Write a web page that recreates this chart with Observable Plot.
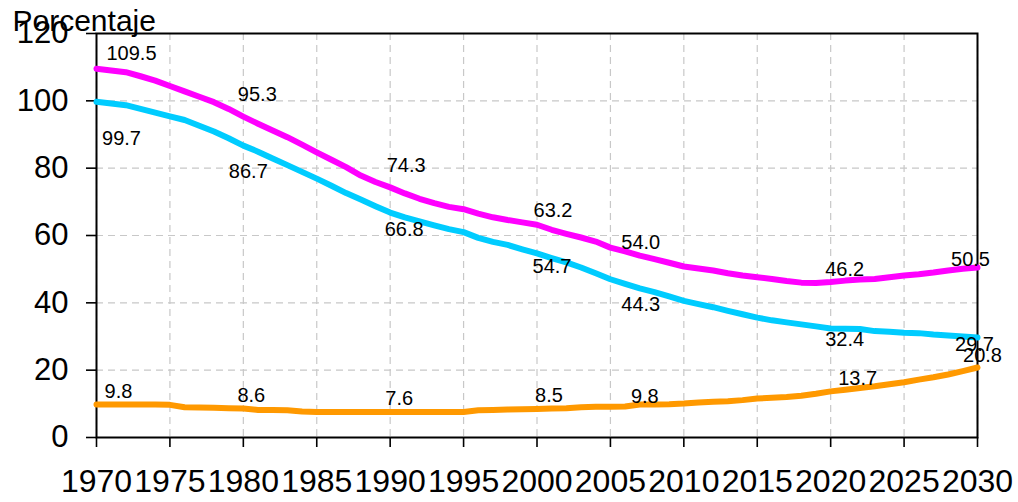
<!DOCTYPE html>
<html>
<head>
<meta charset="utf-8">
<script src="https://cdn.jsdelivr.net/npm/d3@7"></script>
<script src="https://cdn.jsdelivr.net/npm/@observablehq/plot@0.6"></script>
<style>
  html, body { margin: 0; padding: 0; background: #fff; }
  #chart svg { display: block; }
</style>
</head>
<body>
<div id="chart"></div>
<script>
// ---- Data ----
const years = d3.range(1970, 2031);

const seriesNames = ["Total", "Jóvenes", "Mayores"];

const totalValues = [
  109.5, 109.0, 108.5, 107.3, 106.0, 104.4, 102.8, 101.2, 99.6, 97.6,
  95.3, 93.2, 91.2, 89.2, 87.0, 84.7, 82.5, 80.3, 77.8, 75.9,
  74.3, 72.5, 70.9, 69.6, 68.5, 67.8, 66.5, 65.4, 64.6, 63.9,
  63.2, 61.7, 60.5, 59.4, 58.2, 56.4, 55.3, 54.0, 53.0, 51.9,
  50.8, 50.2, 49.6, 48.8, 48.1, 47.6, 47.1, 46.5, 46.0, 45.9,
  46.2, 46.6, 46.9, 47.1, 47.6, 48.1, 48.5, 49.0, 49.6, 50.1,
  50.5
];

const youngValues = [
  99.7, 99.2, 98.7, 97.6, 96.5, 95.4, 94.3, 92.6, 90.9, 88.9,
  86.7, 84.9, 82.9, 80.9, 78.9, 76.9, 74.8, 72.6, 70.7, 68.7,
  66.8, 65.4, 64.2, 63.0, 61.9, 61.0, 59.3, 58.1, 57.2, 55.9,
  54.7, 53.3, 52.0, 50.5, 48.8, 47.0, 45.6, 44.3, 43.2, 41.9,
  40.6, 39.6, 38.7, 37.6, 36.6, 35.6, 34.8, 34.2, 33.6, 33.0,
  32.4, 32.3, 32.2, 31.6, 31.4, 31.1, 31.0, 30.6, 30.3, 30.0,
  29.7
];

const oldValues = [
  9.8, 9.8, 9.8, 9.8, 9.8, 9.7, 9.0, 8.9, 8.8, 8.7,
  8.6, 8.2, 8.2, 8.1, 7.7, 7.6, 7.6, 7.6, 7.6, 7.6,
  7.6, 7.6, 7.6, 7.6, 7.6, 7.6, 8.1, 8.2, 8.3, 8.4,
  8.5, 8.6, 8.7, 9.0, 9.1, 9.1, 9.2, 9.8, 9.8, 9.9,
  10.1, 10.4, 10.6, 10.8, 11.1, 11.6, 11.8, 12.0, 12.4, 13.0,
  13.7, 14.2, 14.7, 15.2, 15.8, 16.4, 17.2, 17.9, 18.7, 19.7,
  20.8
];

const labelYears = [1970, 1980, 1990, 2000, 2007, 2020, 2030];

const xTicks = [1970, 1975, 1980, 1985, 1990, 1995, 2000, 2005, 2010, 2015, 2020, 2025, 2030];
const yTicks = [0, 20, 40, 60, 80, 100, 120];

const yTitle = "Porcentaje";

// ---- Styling / layout (kept separate from the data) ----
const seriesColors = ["#ff00ff", "#00ccff", "#ff9900"];
const labelOffsets = {
  "Total":   [[35, -15], [14, -22], [16, -22], [16, -14], [1, -13], [14, -12], [-7, -8]],
  "Jóvenes": [[25, 37], [5, 26], [14, 17], [15, 13], [1, 16], [14, 11], [-3, 7]],
  "Mayores": [[22, -13], [8, -13], [9, -13], [12, -13], [5, -8], [27, -13], [5, -12]]
};

// ---- Build table ----
const valuesBySeries = {"Total": totalValues, "Jóvenes": youngValues, "Mayores": oldValues};
const table = [];
for (const s of seriesNames) {
  valuesBySeries[s].forEach((v, i) => table.push({series: s, year: years[i], value: v}));
}

const labelMarks = [];
for (const s of seriesNames) {
  labelYears.forEach((yr, k) => {
    const v = valuesBySeries[s][years.indexOf(yr)];
    const [dx, dy] = labelOffsets[s][k];
    labelMarks.push(Plot.text([{year: yr, value: v}], {
      x: "year", y: "value", text: d => d.value.toFixed(1),
      dx, dy, fontSize: 20, fill: "#000", textAnchor: "middle", lineAnchor: "middle"
    }));
  });
}

const chart = Plot.plot({
  width: 1018,
  height: 502,
  marginLeft: 96,
  marginRight: 41,
  marginTop: 33,
  marginBottom: 65,
  style: {fontFamily: "'Liberation Sans', Arial, sans-serif", background: "#fff", color: "#000"},
  x: {domain: [1970, 2030]},
  y: {domain: [0, 120]},
  color: {domain: seriesNames, range: seriesColors},
  marks: [
    Plot.gridX({ticks: xTicks, stroke: "#c8c8c8", strokeOpacity: 1, strokeWidth: 1.2, strokeDasharray: "7,5"}),
    Plot.gridY({ticks: yTicks, stroke: "#c8c8c8", strokeOpacity: 1, strokeWidth: 1.2, strokeDasharray: "7,5"}),
    Plot.frame({stroke: "#000", strokeWidth: 2}),
    Plot.axisX({ticks: xTicks, tickFormat: d => String(d), tickSize: 10, tickPadding: 22,
      fontSize: 32, strokeWidth: 1.6, label: null}),
    Plot.axisY({ticks: yTicks, tickSize: 10, tickPadding: 18, fontSize: 31, strokeWidth: 1.6, label: null}),
    Plot.line(table, {x: "year", y: "value", z: "series", stroke: "series",
      strokeWidth: 6, strokeLinejoin: "round", strokeLinecap: "round"}),
    ...labelMarks,
    Plot.text([yTitle], {frameAnchor: "top-left", text: d => d, textAnchor: "start", lineAnchor: "bottom",
      dx: -84, dy: -3, fontSize: 30, fill: "#000"})
  ]
});

document.getElementById("chart").appendChild(chart);
</script>
</body>
</html>
